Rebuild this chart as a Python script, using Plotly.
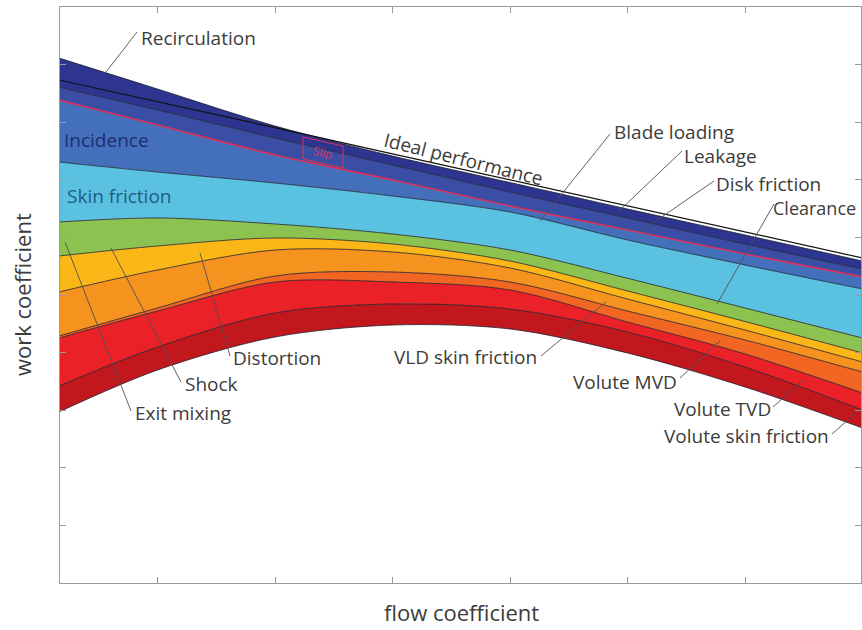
import plotly.graph_objects as go

# ---------------- data (arbitrary units) ----------------
flow = [0.16, 1, 2, 3, 4, 5, 6, 7.0]

top_edge      = [9.115, 8.576, 7.934, 7.413, 6.953, 6.493, 6.042, 5.590]
ideal         = [8.733, 8.358, 7.905, 7.451, 6.997, 6.545, 6.094, 5.642]
navy_line     = [8.611, 8.212, 7.726, 7.257, 6.788, 6.337, 5.885, 5.451]
slip_line     = [8.385, 7.951, 7.431, 6.997, 6.545, 6.128, 5.712, 5.313]
incidence_bot = [7.309, 7.135, 6.944, 6.719, 6.441, 5.955, 5.521, 5.104]
skin_bot      = [6.267, 6.337, 6.233, 6.059, 5.781, 5.290, 4.774, 4.253]
green_bot     = [5.677, 5.851, 5.990, 5.885, 5.590, 5.070, 4.540, 3.993]
yellow_bot    = [5.052, 5.434, 5.781, 5.747, 5.469, 4.930, 4.392, 3.837]
orange_bot    = [4.288, 4.774, 5.330, 5.399, 5.226, 4.722, 4.219, 3.663]
redorange_bot = [4.253, 4.722, 5.226, 5.226, 5.087, 4.531, 3.976, 3.299]
red_bot       = [3.420, 4.097, 4.688, 4.844, 4.757, 4.358, 3.750, 3.003]
bottom_edge   = [2.969, 3.698, 4.271, 4.479, 4.410, 3.993, 3.403, 2.691]

# boundary, fill colour of band above it
bands = [
    (top_edge,      None),
    (navy_line,     "#2d3590"),
    (slip_line,     "#3a4ea5"),
    (incidence_bot, "#4470bb"),
    (skin_bot,      "#5bc1e1"),
    (green_bot,     "#8cc350"),
    (yellow_bot,    "#fbb617"),
    (orange_bot,    "#f6921e"),
    (redorange_bot, "#f26624"),
    (red_bot,       "#ea2126"),
    (bottom_edge,   "#c2171d"),
]

fig = go.Figure()
for i, (yv, col) in enumerate(bands):
    lc = "#d8325a" if yv is slip_line else "rgba(25,25,40,0.85)"
    lw = 1.6 if yv is slip_line else 0.9
    fig.add_trace(go.Scatter(
        x=flow, y=yv, mode="lines",
        line=dict(color=lc, width=lw, shape="spline", smoothing=0.9),
        fill=None if col is None else "tonexty",
        fillcolor=col, hoverinfo="skip"))

fig.add_trace(go.Scatter(x=flow, y=ideal, mode="lines",
                         line=dict(color="#111111", width=1.2),
                         hoverinfo="skip"))

# ---------------- layout helpers (pixel -> paper) ----------------
L, R, T, B = 60, 861, 7, 583
def xp(px):
    return (px - L) / (R - L)
def yp(py):
    return (B - py) / (B - T)

FONT = "Open Sans"
TXT = "#3c3c3c"
FS = 19

labels = [
    # text, px, py, anchor, colour, size
    ("Recirculation", 139, 38, "left", TXT, FS),
    ("Blade loading", 612, 132, "left", TXT, FS),
    ("Leakage", 682, 156, "left", TXT, FS),
    ("Disk friction", 714, 184, "left", TXT, FS),
    ("Clearance", 771, 208, "left", TXT, 18),
    ("VLD skin friction", 539, 357, "right", TXT, FS),
    ("Volute MVD", 679, 382, "right", TXT, FS),
    ("Volute TVD", 773, 409, "right", TXT, FS),
    ("Volute skin friction", 831, 436, "right", TXT, FS),
    ("Distortion", 231, 358, "left", TXT, FS),
    ("Shock", 183, 384, "left", TXT, FS),
    ("Exit mixing", 133, 413, "left", TXT, FS),
    ("Incidence", 62, 140, "left", "#1f2c72", FS),
    ("Skin friction", 65, 196, "left", "#1f5c82", FS),
]
leaders = [
    (137, 32, 106, 72),
    (610, 134, 540, 221),
    (682, 151, 618, 212),
    (714, 181, 640, 232),
    (774, 204, 717, 304),
    (541, 356, 606, 302),
    (680, 378, 720, 341),
    (773, 407, 803, 380),
    (832, 434, 858, 411),
    (230, 356, 200, 253),
    (181, 382, 111, 248),
    (131, 411, 65, 242),
]

ann = []
for txt, px, py, anc, col, fs in labels:
    ann.append(dict(text=txt, x=xp(px), y=yp(py), xref="paper", yref="paper",
                    xanchor=anc, yanchor="middle", showarrow=False,
                    font=dict(family=FONT, size=fs, color=col)))
ann.append(dict(text="Ideal performance", x=xp(463), y=yp(159), xref="paper",
                yref="paper", showarrow=False, textangle=14,
                xanchor="center", yanchor="middle",
                font=dict(family=FONT, size=FS, color=TXT)))
ann.append(dict(text="Slip", x=xp(323), y=yp(152), xref="paper", yref="paper",
                showarrow=False, textangle=14, xanchor="center", yanchor="middle",
                font=dict(family=FONT, size=12, color="#d8325a")))
ann.append(dict(text="work coefficient", x=xp(22), y=yp(295), xref="paper",
                yref="paper", showarrow=False, textangle=-90,
                xanchor="center", yanchor="middle",
                font=dict(family=FONT, size=22, color=TXT)))
ann.append(dict(text="flow coefficient", x=xp(461), y=yp(612), xref="paper",
                yref="paper", showarrow=False, xanchor="center", yanchor="middle",
                font=dict(family=FONT, size=22, color=TXT)))

shapes = []
for x0, y0, x1, y1 in leaders:
    shapes.append(dict(type="line", xref="paper", yref="paper",
                       x0=xp(x0), y0=yp(y0), x1=xp(x1), y1=yp(y1),
                       line=dict(color="#505050", width=0.9)))
# slip box
sx = [303, 343, 343, 303]
sy = [137, 146, 168, 159]
path = "M {} {} L {} {} L {} {} L {} {} Z".format(
    xp(sx[0]), yp(sy[0]), xp(sx[1]), yp(sy[1]),
    xp(sx[2]), yp(sy[2]), xp(sx[3]), yp(sy[3]))
shapes.append(dict(type="path", xref="paper", yref="paper", path=path,
                   line=dict(color="#d8325a", width=1)))

axis_common = dict(showline=True, linecolor="#9a9a9a", linewidth=1,
                   mirror="ticks", ticks="inside", ticklen=6,
                   tickcolor="#9a9a9a", showticklabels=False,
                   showgrid=False, zeroline=False)

fig.update_layout(
    width=862, height=630,
    margin=dict(l=L, r=862 - R, t=T, b=630 - B),
    plot_bgcolor="white", paper_bgcolor="white",
    showlegend=False,
    xaxis=dict(range=[0.1702, 6.987], tick0=1, dtick=1, **axis_common),
    yaxis=dict(range=[0, 10], tick0=0, dtick=1, **axis_common),
    annotations=ann, shapes=shapes,
)

fig.write_html("out.html",
               config={"displayModeBar": False},
               post_script="document.body.style.margin='0px';"
                           "document.body.style.padding='0px';")
